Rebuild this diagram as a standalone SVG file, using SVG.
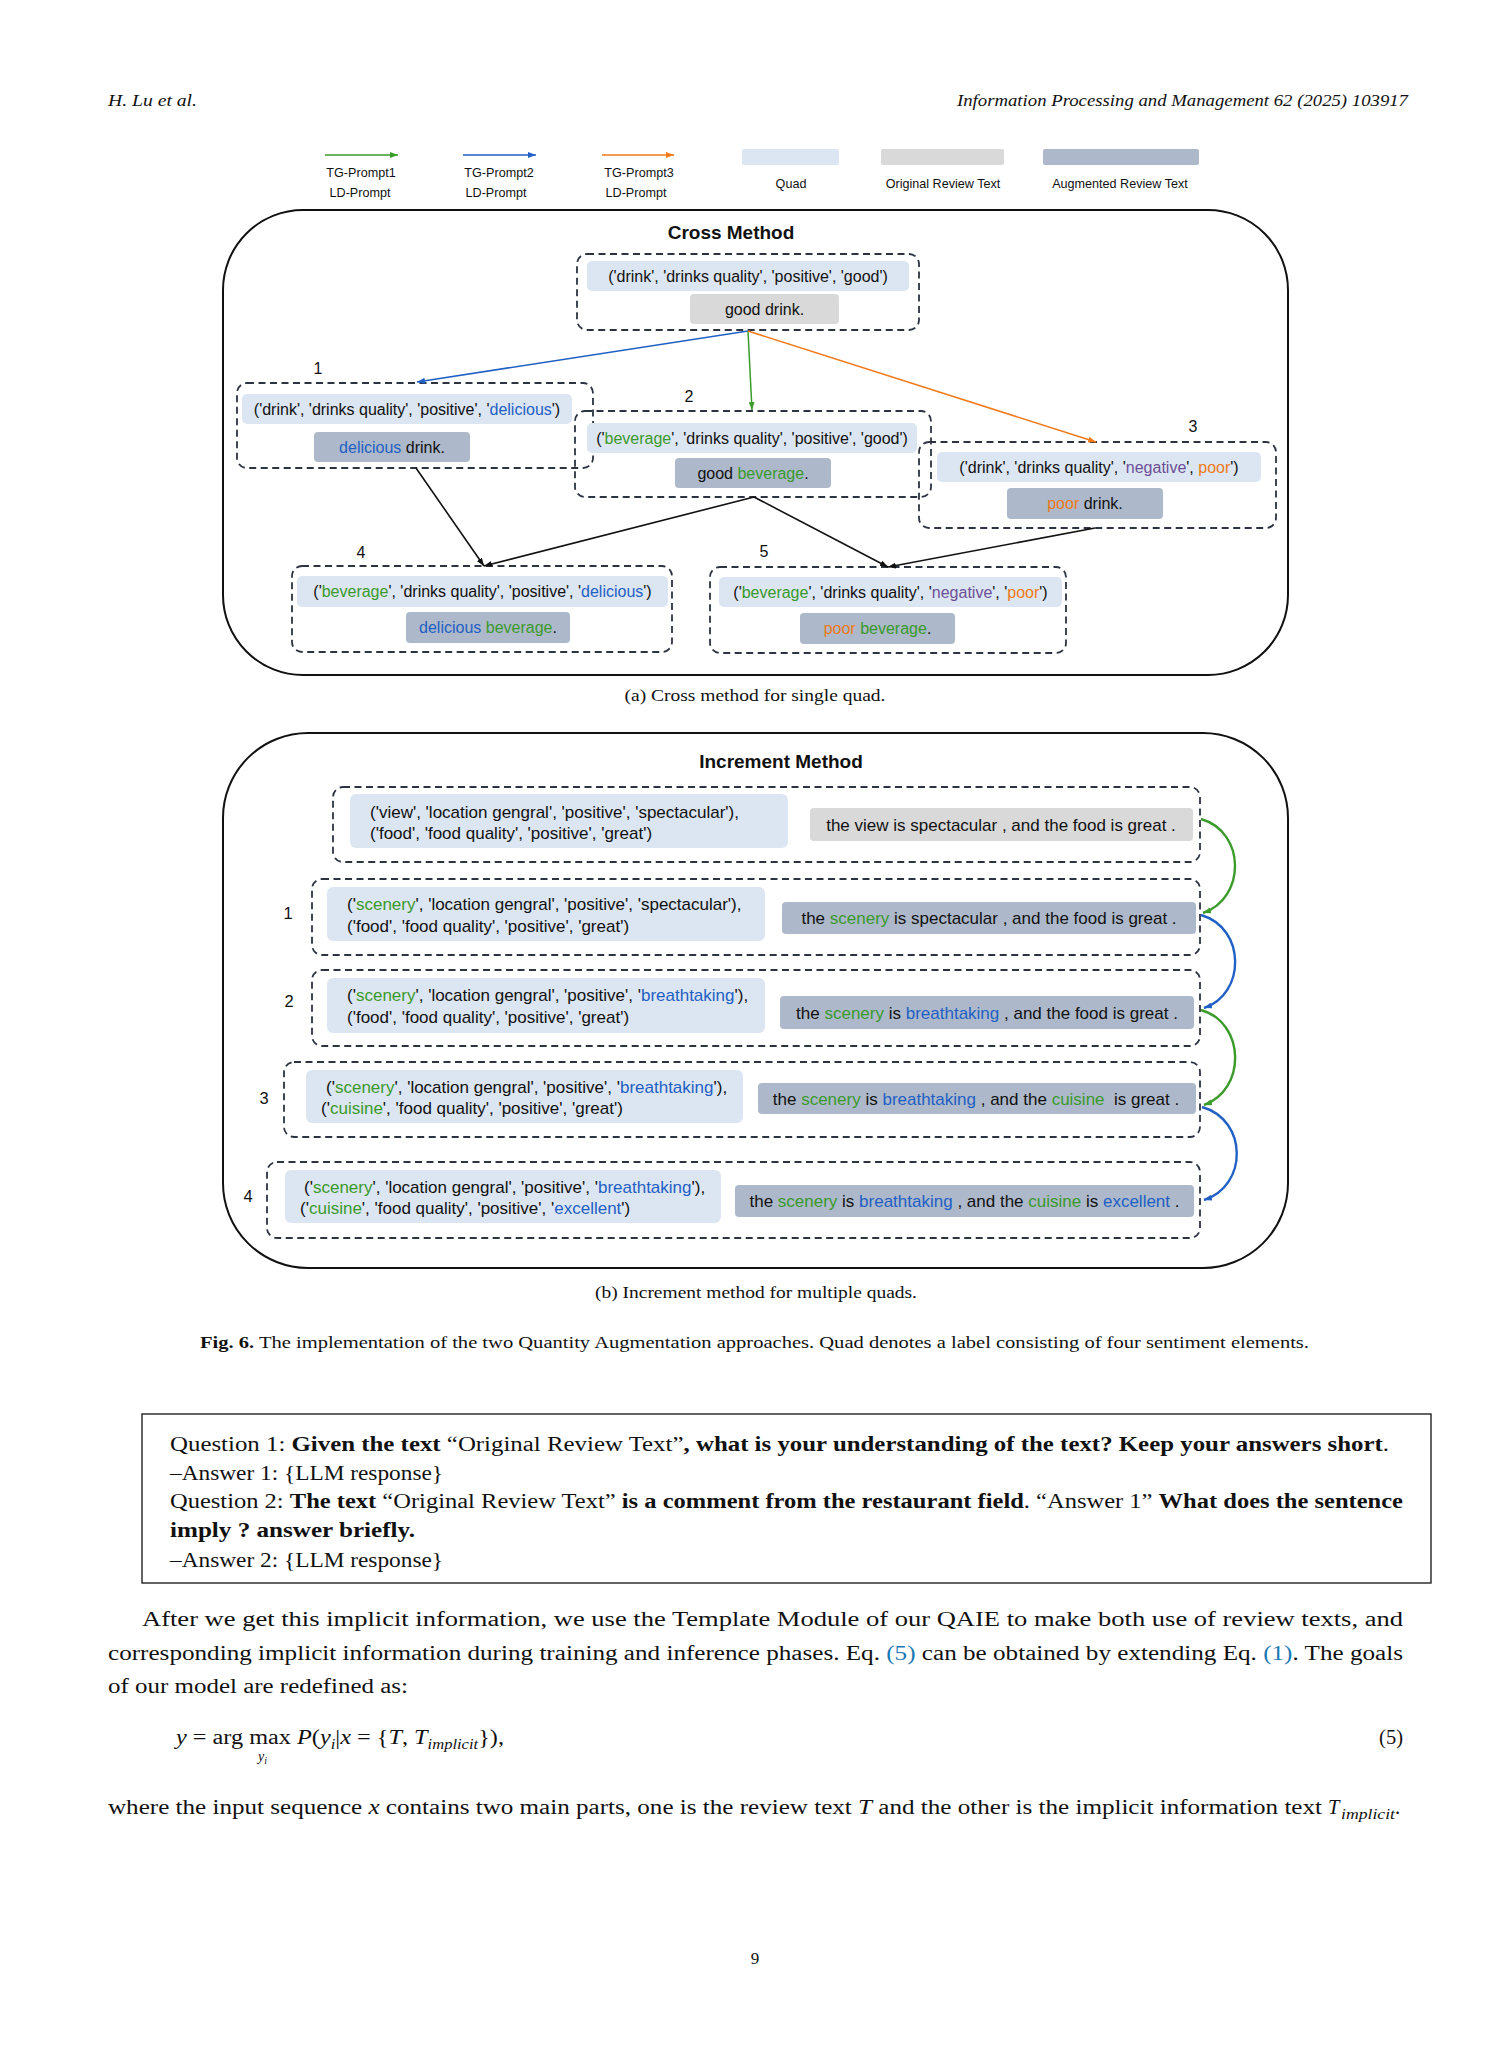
<svg xmlns="http://www.w3.org/2000/svg" width="1512" height="2063" viewBox="0 0 1512 2063">
<defs>
<style>
.sans{font-family:"Liberation Sans",Arial,Helvetica,sans-serif;fill:#111}
.serif{font-family:"Liberation Serif","Times New Roman",serif;fill:#111}
.f16{font-size:16px}
.f17{font-size:17px}
.leg{font-size:12.6px}
.ttl{font-size:19px;font-weight:bold}
.q{fill:#dce6f2}
.o{fill:#d9d9d9}
.a{fill:#adb9ca}
.dash{fill:none;stroke:#2d3340;stroke-width:1.8;stroke-dasharray:7 4.5}
.outer{fill:none;stroke:#111;stroke-width:2}
.g{fill:#3a9a2c}
.b{fill:#1f5fc4}
.or{fill:#ee7a18}
.p{fill:#6c4f96}
.lk{fill:#1a78b4}
.bd{font-weight:bold}
.it{font-style:italic}
.body{font-size:20.5px}
</style>
<marker id="mg" viewBox="0 0 8 6" refX="8" refY="3" markerWidth="8" markerHeight="6" markerUnits="userSpaceOnUse" orient="auto"><path d="M0,0 L8,3 L0,6 z" fill="#3b9b2b"/></marker>
<marker id="mb" viewBox="0 0 8 6" refX="8" refY="3" markerWidth="8" markerHeight="6" markerUnits="userSpaceOnUse" orient="auto"><path d="M0,0 L8,3 L0,6 z" fill="#2160c4"/></marker>
<marker id="mo" viewBox="0 0 8 6" refX="8" refY="3" markerWidth="8" markerHeight="6" markerUnits="userSpaceOnUse" orient="auto"><path d="M0,0 L8,3 L0,6 z" fill="#f07b1c"/></marker>
<marker id="mk" viewBox="0 0 8 6" refX="8" refY="3" markerWidth="8" markerHeight="6" markerUnits="userSpaceOnUse" orient="auto"><path d="M0,0 L8,3 L0,6 z" fill="#111"/></marker>
</defs>
<rect width="1512" height="2063" fill="#fff"/>

<!-- header -->
<text class="serif it" x="108" y="106" font-size="17" textLength="89" lengthAdjust="spacingAndGlyphs">H. Lu et al.</text>
<text class="serif it" x="957" y="106" font-size="17" textLength="451" lengthAdjust="spacingAndGlyphs">Information Processing and Management 62 (2025) 103917</text>

<!-- legend -->
<g id="legend">
<line x1="325" y1="155" x2="398" y2="155" stroke="#3b9b2b" stroke-width="1.6" marker-end="url(#mg)"/>
<line x1="463" y1="155" x2="536" y2="155" stroke="#2160c4" stroke-width="1.6" marker-end="url(#mb)"/>
<line x1="602" y1="155" x2="674" y2="155" stroke="#f07b1c" stroke-width="1.6" marker-end="url(#mo)"/>
<text class="sans leg" x="361" y="177" text-anchor="middle">TG-Prompt1</text>
<text class="sans leg" x="360" y="197" text-anchor="middle">LD-Prompt</text>
<text class="sans leg" x="499" y="177" text-anchor="middle">TG-Prompt2</text>
<text class="sans leg" x="496" y="197" text-anchor="middle">LD-Prompt</text>
<text class="sans leg" x="639" y="177" text-anchor="middle">TG-Prompt3</text>
<text class="sans leg" x="636" y="197" text-anchor="middle">LD-Prompt</text>
<rect class="q" x="742" y="149" width="97" height="16" rx="2"/>
<rect class="o" x="881" y="149" width="123" height="16" rx="2"/>
<rect class="a" x="1043" y="149" width="156" height="16" rx="2"/>
<text class="sans leg" x="791" y="187.5" text-anchor="middle">Quad</text>
<text class="sans leg" x="943" y="187.5" text-anchor="middle">Original Review Text</text>
<text class="sans leg" x="1120" y="187.5" text-anchor="middle">Augmented Review Text</text>
</g>

<!-- Cross method -->
<g id="cross-frame">
<rect class="outer" x="223" y="210" width="1065" height="465" rx="80" ry="80"/>
<text class="sans ttl" x="731" y="239" text-anchor="middle">Cross Method</text>
</g>

<g id="c0">
<rect class="dash" x="577" y="254" width="342" height="76" rx="10"/>
<rect class="q" x="587" y="261" width="322" height="30" rx="5"/>
<rect class="o" x="690" y="294" width="149" height="30" rx="4"/>
<text class="sans f16" x="748" y="282" text-anchor="middle">('drink', 'drinks quality', 'positive', 'good')</text>
<text class="sans f16" x="764.5" y="315" text-anchor="middle">good drink.</text>
</g>

<g id="c1">
<rect class="dash" x="237" y="383" width="356" height="85" rx="10"/>
<rect class="q" x="242" y="394" width="330" height="30" rx="5"/>
<rect class="a" x="314" y="432" width="156" height="30" rx="4"/>
<text class="sans f16" x="407" y="414.7" text-anchor="middle">('drink', 'drinks quality', 'positive', '<tspan class="b">delicious</tspan>')</text>
<text class="sans f16" x="392" y="452.7" text-anchor="middle"><tspan class="b">delicious</tspan> drink.</text>
<text class="sans f16" x="318" y="374" text-anchor="middle">1</text>
</g>

<g id="c2">
<rect class="dash" x="575" y="411" width="356" height="86" rx="10"/>
<rect class="q" x="587" y="423" width="330" height="30" rx="5"/>
<rect class="a" x="675" y="458" width="156" height="30" rx="4"/>
<text class="sans f16" x="752" y="443.7" text-anchor="middle">('<tspan class="g">beverage</tspan>', 'drinks quality', 'positive', 'good')</text>
<text class="sans f16" x="753" y="478.7" text-anchor="middle">good <tspan class="g">beverage</tspan>.</text>
<text class="sans f16" x="689" y="402" text-anchor="middle">2</text>
</g>

<g id="c3">
<rect class="dash" x="919" y="442" width="357" height="86" rx="10"/>
<rect class="q" x="937" y="452" width="324" height="30" rx="5"/>
<rect class="a" x="1007" y="488" width="156" height="31" rx="4"/>
<text class="sans f16" x="1099" y="472.7" text-anchor="middle">('drink', 'drinks quality', '<tspan class="p">negative</tspan>', <tspan class="or">poor</tspan>')</text>
<text class="sans f16" x="1085" y="509" text-anchor="middle"><tspan class="or">poor</tspan> drink.</text>
<text class="sans f16" x="1193" y="432" text-anchor="middle">3</text>
</g>

<g id="c4">
<rect class="dash" x="292" y="566" width="380" height="86" rx="10"/>
<rect class="q" x="297" y="576" width="371" height="31" rx="5"/>
<rect class="a" x="406" y="612" width="164" height="31" rx="4"/>
<text class="sans f16" x="482.5" y="597" text-anchor="middle">('<tspan class="g">beverage</tspan>', 'drinks quality', 'positive', '<tspan class="b">delicious</tspan>')</text>
<text class="sans f16" x="488" y="633" text-anchor="middle"><tspan class="b">delicious</tspan> <tspan class="g">beverage</tspan>.</text>
<text class="sans f16" x="361" y="558" text-anchor="middle">4</text>
</g>

<g id="c5">
<rect class="dash" x="710" y="567" width="356" height="86" rx="10"/>
<rect class="q" x="719" y="577" width="343" height="30" rx="5"/>
<rect class="a" x="800" y="613" width="155" height="31" rx="4"/>
<text class="sans f16" x="890.5" y="597.7" text-anchor="middle">('<tspan class="g">beverage</tspan>', 'drinks quality', '<tspan class="p">negative</tspan>', '<tspan class="or">poor</tspan>')</text>
<text class="sans f16" x="877.5" y="634" text-anchor="middle"><tspan class="or">poor</tspan> <tspan class="g">beverage</tspan>.</text>
<text class="sans f16" x="764" y="557" text-anchor="middle">5</text>
</g>

<g id="cross-connectors" fill="none">
<line x1="748" y1="331" x2="417" y2="382" stroke="#2160c4" stroke-width="1.6" marker-end="url(#mb)"/>
<line x1="748" y1="331" x2="752" y2="410" stroke="#3b9b2b" stroke-width="1.5" marker-end="url(#mg)"/>
<line x1="748" y1="331" x2="1096" y2="442" stroke="#f07b1c" stroke-width="1.6" marker-end="url(#mo)"/>
<line x1="416" y1="468" x2="484" y2="566" stroke="#111" stroke-width="1.6" marker-end="url(#mk)"/>
<line x1="754" y1="497" x2="484" y2="566" stroke="#111" stroke-width="1.6" marker-end="url(#mk)"/>
<line x1="754" y1="497" x2="888" y2="567" stroke="#111" stroke-width="1.6" marker-end="url(#mk)"/>
<line x1="1095" y1="528" x2="888" y2="567" stroke="#111" stroke-width="1.6" marker-end="url(#mk)"/>
</g>

<text class="serif" x="755" y="701" font-size="17" text-anchor="middle" textLength="261" lengthAdjust="spacingAndGlyphs">(a)  Cross method for single quad.</text>

<!-- Increment method -->
<g id="inc-frame">
<rect class="outer" x="223" y="733" width="1065" height="535" rx="85" ry="85"/>
<text class="sans ttl" x="781" y="768" text-anchor="middle">Increment Method</text>
</g>

<g id="r0">
<rect class="dash" x="333" y="787" width="867" height="75" rx="10"/>
<rect class="q" x="350" y="794" width="438" height="54" rx="6"/>
<rect class="o" x="810" y="808" width="383" height="33" rx="4"/>
<text class="sans f17" x="370" y="818">('view', 'location gengral', 'positive', 'spectacular'),</text>
<text class="sans f17" x="370" y="839">('food', 'food quality', 'positive', 'great')</text>
<text class="sans f17" x="1001" y="831" text-anchor="middle">the view is spectacular , and the food is great .</text>
</g>

<g id="r1">
<rect class="dash" x="312" y="879" width="888" height="76" rx="10"/>
<rect class="q" x="327" y="887" width="438" height="54" rx="6"/>
<rect class="a" x="782" y="902" width="414" height="32" rx="4"/>
<text class="sans f17" x="347" y="910">('<tspan class="g">scenery</tspan>', 'location gengral', 'positive', 'spectacular'),</text>
<text class="sans f17" x="347" y="932">('food', 'food quality', 'positive', 'great')</text>
<text class="sans f17" x="989" y="924" text-anchor="middle">the <tspan class="g">scenery</tspan> is spectacular , and the food is great .</text>
<text class="sans" font-size="16.5" x="288" y="919" text-anchor="middle">1</text>
</g>

<g id="r2">
<rect class="dash" x="312" y="970" width="888" height="76" rx="10"/>
<rect class="q" x="327" y="978" width="438" height="55" rx="6"/>
<rect class="a" x="780" y="996" width="414" height="33" rx="4"/>
<text class="sans f17" x="347" y="1001">('<tspan class="g">scenery</tspan>', 'location gengral', 'positive', '<tspan class="b">breathtaking</tspan>'),</text>
<text class="sans f17" x="347" y="1023">('food', 'food quality', 'positive', 'great')</text>
<text class="sans f17" x="987" y="1019" text-anchor="middle">the <tspan class="g">scenery</tspan> is <tspan class="b">breathtaking</tspan> , and the food is great .</text>
<text class="sans" font-size="16.5" x="289" y="1007" text-anchor="middle">2</text>
</g>

<g id="r3">
<rect class="dash" x="284" y="1062" width="916" height="75" rx="10"/>
<rect class="q" x="306" y="1070" width="437" height="53" rx="6"/>
<rect class="a" x="758" y="1083" width="438" height="31" rx="4"/>
<text class="sans f17" x="326" y="1093">('<tspan class="g">scenery</tspan>', 'location gengral', 'positive', '<tspan class="b">breathtaking</tspan>'),</text>
<text class="sans f17" x="321" y="1114">('<tspan class="g">cuisine</tspan>', 'food quality', 'positive', 'great')</text>
<text class="sans f17" x="976" y="1105" text-anchor="middle" xml:space="preserve">the <tspan class="g">scenery</tspan> is <tspan class="b">breathtaking</tspan> , and the <tspan class="g">cuisine</tspan>  is great .</text>
<text class="sans" font-size="16.5" x="264" y="1104" text-anchor="middle">3</text>
</g>

<g id="r4">
<rect class="dash" x="267" y="1162" width="933" height="76" rx="10"/>
<rect class="q" x="285" y="1170" width="436" height="53" rx="6"/>
<rect class="a" x="735" y="1185" width="459" height="32" rx="4"/>
<text class="sans f17" x="304" y="1193">('<tspan class="g">scenery</tspan>', 'location gengral', 'positive', '<tspan class="b">breathtaking</tspan>'),</text>
<text class="sans f17" x="300" y="1214">('<tspan class="g">cuisine</tspan>', 'food quality', 'positive', '<tspan class="b">excellent</tspan>')</text>
<text class="sans f17" x="964.5" y="1207" text-anchor="middle">the <tspan class="g">scenery</tspan> is <tspan class="b">breathtaking</tspan> , and the <tspan class="g">cuisine</tspan> is <tspan class="b">excellent</tspan> .</text>
<text class="sans" font-size="16.5" x="248" y="1202" text-anchor="middle">4</text>
</g>

<g id="inc-connectors" fill="none" stroke-width="2.4">
<path d="M1201,819 C1246,832 1246,898 1203,913" stroke="#3b9b2b" marker-end="url(#mg)"/>
<path d="M1201,915 C1246,928 1246,994 1204,1008" stroke="#2160c4" marker-end="url(#mb)"/>
<path d="M1201,1010 C1246,1023 1246,1090 1204,1105" stroke="#3b9b2b" marker-end="url(#mg)"/>
<path d="M1202,1107 C1248,1120 1248,1186 1204,1200" stroke="#2160c4" marker-end="url(#mb)"/>
</g>

<text class="serif" x="756" y="1298" font-size="17" text-anchor="middle" textLength="322" lengthAdjust="spacingAndGlyphs">(b)  Increment method for multiple quads.</text>

<text class="serif" x="200" y="1348" font-size="16" textLength="1109" lengthAdjust="spacingAndGlyphs"><tspan class="bd">Fig. 6.</tspan>  The implementation of the two Quantity Augmentation approaches. Quad denotes a label consisting of four sentiment elements.</text>

<!-- prompt box -->
<g id="prompt-box">
<rect x="142" y="1414" width="1289" height="169" fill="none" stroke="#111" stroke-width="1.3"/>
<text class="serif body" x="170" y="1451" textLength="1219" lengthAdjust="spacingAndGlyphs">Question 1: <tspan class="bd">Given the text </tspan>“Original Review Text”<tspan class="bd">, what is your understanding of the text? Keep your answers short</tspan>.</text>
<text class="serif body" x="170" y="1480" textLength="273" lengthAdjust="spacingAndGlyphs">–Answer 1: {LLM response}</text>
<text class="serif body" x="170" y="1508" textLength="1233" lengthAdjust="spacingAndGlyphs">Question 2: <tspan class="bd">The text </tspan>“Original Review Text” <tspan class="bd">is a comment from the restaurant field</tspan>. “Answer 1” <tspan class="bd">What does the sentence</tspan></text>
<text class="serif body bd" x="170" y="1537" textLength="245" lengthAdjust="spacingAndGlyphs">imply ? answer briefly.</text>
<text class="serif body" x="170" y="1567" textLength="273" lengthAdjust="spacingAndGlyphs">–Answer 2: {LLM response}</text>
</g>

<!-- body text -->
<text class="serif body" x="142" y="1626" textLength="1261" lengthAdjust="spacingAndGlyphs">After we get this implicit information, we use the Template Module of our QAIE to make both use of review texts, and</text>
<text class="serif body" x="108" y="1660" textLength="1295" lengthAdjust="spacingAndGlyphs">corresponding implicit information during training and inference phases. Eq. <tspan class="lk">(5)</tspan> can be obtained by extending Eq. <tspan class="lk">(1)</tspan>. The goals</text>
<text class="serif body" x="108" y="1693" textLength="300" lengthAdjust="spacingAndGlyphs">of our model are redefined as:</text>

<text class="serif body" x="176" y="1744" textLength="328" lengthAdjust="spacingAndGlyphs"><tspan class="it">y</tspan> = arg max <tspan class="it">P</tspan>(<tspan class="it">y</tspan><tspan class="it" font-size="14" dy="5">i</tspan><tspan dy="-5">|</tspan><tspan class="it">x</tspan> = {<tspan class="it">T</tspan>, <tspan class="it">T</tspan><tspan class="it" font-size="14" dy="5">implicit</tspan><tspan dy="-5">}),</tspan></text>
<text class="serif it" x="258" y="1761" font-size="14">y<tspan font-size="10" dy="3">i</tspan></text>
<text class="serif body" x="1403" y="1744" text-anchor="end">(5)</text>

<text class="serif body" x="108" y="1814" textLength="1214" lengthAdjust="spacingAndGlyphs">where the input sequence <tspan class="it">x</tspan> contains two main parts, one is the review text <tspan class="it">T</tspan> and the other is the implicit information text</text>
<text class="serif body it" x="1328" y="1814">T</text>
<text class="serif it" x="1341" y="1819" font-size="14" textLength="54" lengthAdjust="spacingAndGlyphs">implicit</text>
<text class="serif body" x="1395" y="1814">.</text>

<text class="serif" x="755" y="1964" font-size="17" text-anchor="middle">9</text>
</svg>
